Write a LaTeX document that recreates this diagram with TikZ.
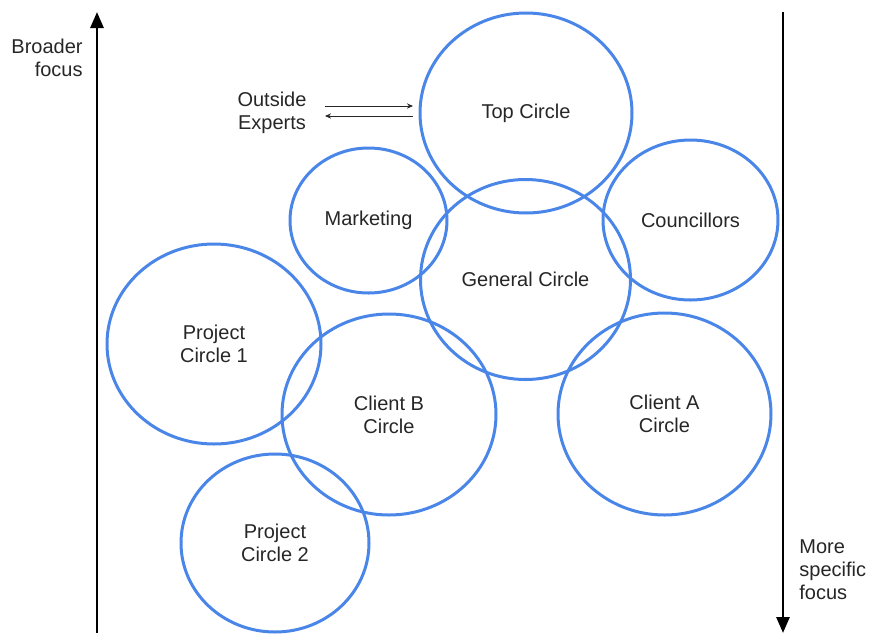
\documentclass[tikz,border=0pt]{standalone}
\usepackage{fontspec}
\setmainfont{Liberation Sans}
\usetikzlibrary{shapes.geometric,arrows.meta}
\definecolor{cblue}{HTML}{4A86E8}
\definecolor{ink}{HTML}{262626}
\tikzset{
  bub/.style={ellipse, draw=cblue, line width=1.5pt, inner sep=0pt, align=center,
    text=ink, font=\fontsize{10}{11.5}\selectfont},
  lbl/.style={text=ink, font=\fontsize{10}{11.5}\selectfont, inner sep=0pt},
  bigarrow/.style={line width=1.4pt, draw=black, -{Triangle[length=8pt,width=6.5pt]}},
  thinarrow/.style={line width=0.5pt, draw=ink, -{Stealth[length=3pt,width=2.6pt]}}
}
\begin{document}
\begin{tikzpicture}[x=0.5pt,y=-0.5pt]
\useasboundingbox (0,0) rectangle (869,633);
% circles
\node[bub, minimum width=106pt, minimum height=100pt] (top) at (526,113) {Top Circle};
\node[bub, minimum width=78.5pt, minimum height=72.5pt] (mkt) at (368.5,220.5) {Marketing};
\node[bub, minimum width=105pt, minimum height=100pt] (gen) at (525.5,279.5) {General Circle};
\node[bub, minimum width=87.5pt, minimum height=80pt] (cou) at (690.5,220) {Councillors};
\node[bub, minimum width=107pt, minimum height=100pt] (pc1) at (214,344) {Project\\Circle 1};
\node[bub, minimum width=107pt, minimum height=100.5pt] (cb) at (389,414.5) {Client B\\Circle};
\node[bub, minimum width=106.5pt, minimum height=101pt] (ca) at (664.5,414) {Client A\\Circle};
\node[bub, minimum width=94pt, minimum height=89pt] (pc2) at (275,543) {Project\\Circle 2};
% labels
\node[lbl, align=right, anchor=east] (broad) at (83,58) {Broader\\focus};
\node[lbl, align=left, anchor=west] (spec) at (799,570) {More\\specific\\focus};
\node[lbl, align=center] (oe) at (272,112.5) {Outside\\Experts};
% vertical arrows
\coordinate (lbot) at (97,633);
\coordinate (ltop) at (97,12);
\coordinate (rtop) at (783,12);
\coordinate (rbot) at (783,633);
\draw[bigarrow] (lbot) -- (ltop);
\draw[bigarrow] (rtop) -- (rbot);
% outside experts arrows
\coordinate (o1a) at (325,106);
\coordinate (o1b) at (413,106);
\coordinate (o2a) at (413,116);
\coordinate (o2b) at (325,116);
\draw[thinarrow] (o1a) -- (o1b);
\draw[thinarrow] (o2a) -- (o2b);
\end{tikzpicture}
\end{document}
